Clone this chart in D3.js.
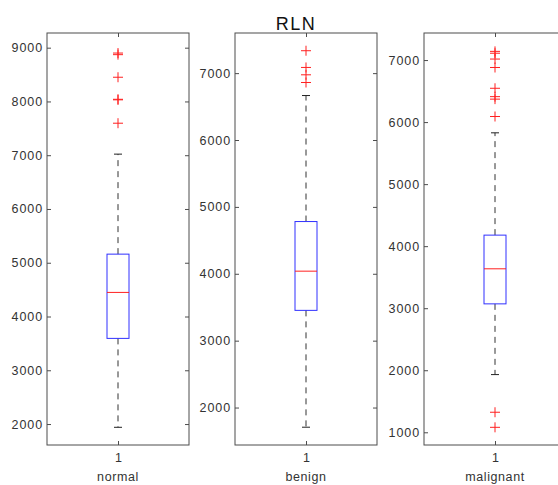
<!DOCTYPE html>
<html><head><meta charset="utf-8">
<script src="https://cdn.jsdelivr.net/npm/d3@7"></script>
<style>body{margin:0;background:#fff;}svg{display:block;font-family:"Liberation Sans",Arial,sans-serif;}</style>
</head><body>
<script>
const categories = ["normal", "benign", "malignant"];
const q1Values = [3593, 3453, 3070];
const medianValues = [4448, 4039, 3635];
const q3Values = [5160, 4781, 4178];
const whiskerLow = [1939, 1706, 1930];
const whiskerHigh = [7020, 6665, 5827];
const outliers = [
  [8900, 8870, 8450, 8040, 8030, 7595],
  [7335, 7085, 6975, 6860],
  [7140, 7110, 7016, 6880, 6545, 6410, 6370, 6090, 1323, 1080]
];
const yDomains = [[1610, 9273], [1440, 7600], [795, 7436]];
const yTicks = [
  [2000, 3000, 4000, 5000, 6000, 7000, 8000, 9000],
  [2000, 3000, 4000, 5000, 6000, 7000],
  [1000, 2000, 3000, 4000, 5000, 6000, 7000]
];
const xTickLabels = ["1"];
const chartTitle = "RLN";

const W = 558, H = 485;
const svg = d3.select("body").append("svg").attr("width", W).attr("height", H);
const panelLeft = [47, 235, 424];
const panelW = 142, plotTop = 33, plotBottom = 445;
const frameColor = "#4d4d4d", textColor = "#333";

categories.forEach((cat, i) => {
  const g = svg.append("g").attr("transform", `translate(${panelLeft[i]},0)`);
  const y = d3.scaleLinear().domain(yDomains[i]).range([plotBottom, plotTop]);
  const x = d3.scalePoint().domain(xTickLabels).range([0, panelW]).padding(0.5);
  const cx = x("1");
  const bw = 22, cap = 8;

  const ya = g.append("g").call(d3.axisLeft(y).tickValues(yTicks[i]).tickSize(-4).tickPadding(4).tickFormat(d3.format("d")));
  ya.select(".domain").remove();
  ya.selectAll("line").attr("stroke", frameColor);
  ya.selectAll("text").attr("fill", textColor).style("font-size", "12.5px").style("letter-spacing", "0.9px");
  const yr = g.append("g").attr("transform", `translate(${panelW},0)`).call(d3.axisRight(y).tickValues(yTicks[i]).tickSize(-4).tickFormat(""));
  yr.select(".domain").remove();
  yr.selectAll("line").attr("stroke", frameColor);
  const xa = g.append("g").attr("transform", `translate(0,${plotBottom})`).call(d3.axisBottom(x).tickSize(-4).tickPadding(8));
  xa.select(".domain").remove();
  xa.selectAll("line").attr("stroke", frameColor);
  xa.selectAll("text").attr("fill", textColor).style("font-size", "12.5px");
  const xt = g.append("g").attr("transform", `translate(0,${plotTop})`).call(d3.axisTop(x).tickSize(-4).tickFormat(""));
  xt.select(".domain").remove();
  xt.selectAll("line").attr("stroke", frameColor);

  g.append("rect").attr("x", 0).attr("y", plotTop).attr("width", panelW).attr("height", plotBottom - plotTop)
    .attr("fill", "none").attr("stroke", frameColor).attr("stroke-width", 1);

  g.append("text").attr("x", cx).attr("y", 481).attr("text-anchor", "middle")
    .attr("fill", textColor).style("font-size", "12.5px").style("letter-spacing", "0.6px").text(cat);

  g.append("line").attr("x1", cx).attr("x2", cx).attr("y1", y(q3Values[i])).attr("y2", y(whiskerHigh[i]))
    .attr("stroke", "#333").attr("stroke-dasharray", "6,5");
  g.append("line").attr("x1", cx).attr("x2", cx).attr("y1", y(q1Values[i])).attr("y2", y(whiskerLow[i]))
    .attr("stroke", "#333").attr("stroke-dasharray", "6,5");
  [whiskerHigh[i], whiskerLow[i]].forEach(v => {
    g.append("line").attr("x1", cx - cap / 2).attr("x2", cx + cap / 2).attr("y1", y(v)).attr("y2", y(v))
      .attr("stroke", "#222");
  });
  g.append("rect").attr("x", cx - bw / 2).attr("width", bw).attr("y", y(q3Values[i]))
    .attr("height", y(q1Values[i]) - y(q3Values[i])).attr("fill", "none").attr("stroke", "#3030ff");
  g.append("line").attr("x1", cx - bw / 2).attr("x2", cx + bw / 2).attr("y1", y(medianValues[i])).attr("y2", y(medianValues[i]))
    .attr("stroke", "#ff2020");
  outliers[i].forEach(v => {
    g.append("path").attr("d", `M${cx - 5},${y(v)}H${cx + 5}M${cx},${y(v) - 5}V${y(v) + 5}`)
      .attr("stroke", "#ff2020").attr("fill", "none");
  });
});

svg.append("text").attr("x", 296).attr("y", 30).attr("text-anchor", "middle")
  .attr("fill", "#111").style("font-size", "18px").style("letter-spacing", "1.5px").text(chartTitle);
</script>
</body></html>
